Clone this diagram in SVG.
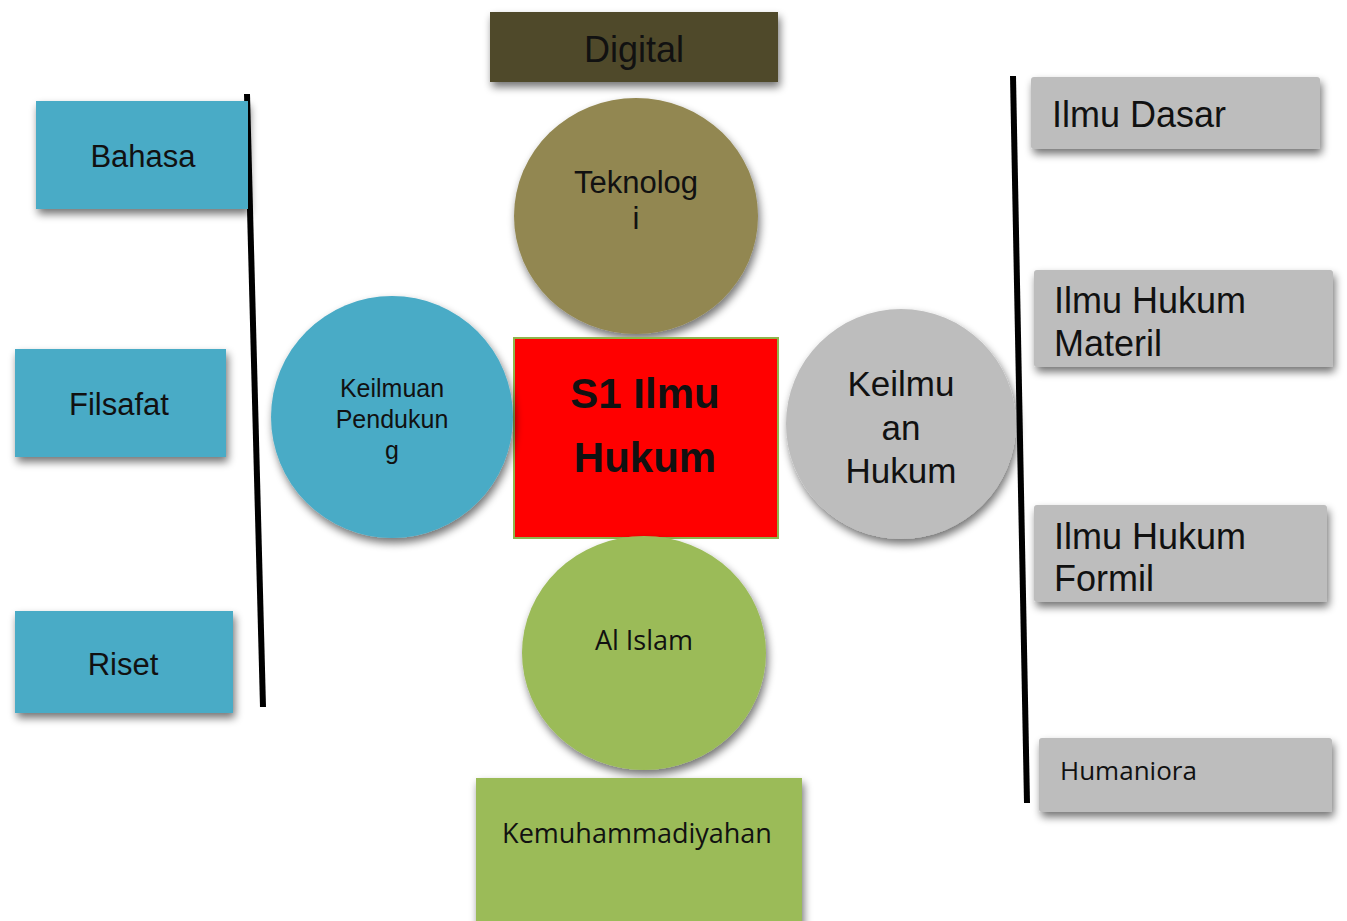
<svg xmlns="http://www.w3.org/2000/svg" width="1347" height="921" viewBox="0 0 1347 921">
<defs>
<filter id="sh" x="-20%" y="-20%" width="140%" height="150%">
<feGaussianBlur in="SourceAlpha" stdDeviation="4"/>
<feOffset dx="2" dy="5" result="b"/>
<feComponentTransfer><feFuncA type="linear" slope="0.55"/></feComponentTransfer>
<feMerge><feMergeNode/><feMergeNode in="SourceGraphic"/></feMerge>
</filter>
</defs>
<style>
.t{font-family:"Liberation Sans",Arial,sans-serif;fill:#111;text-anchor:middle}
.l{font-family:"Liberation Sans",Arial,sans-serif;fill:#111}
.c{font-family:"Open Sans","Noto Sans",sans-serif;fill:#111;text-anchor:middle}
.blue{fill:#4aabc6}
.grey{fill:#bdbdbd}
.green{fill:#9bbb59}
</style>
<rect width="1347" height="921" fill="#ffffff"/>
<g id="connectors" stroke="#000" stroke-width="6" fill="none">
<line x1="247" y1="94" x2="263" y2="707"/>
<line x1="1013" y1="76" x2="1027" y2="803"/>
</g>
<g id="digital">
<rect x="490" y="12" width="288" height="70" fill="#4f4a2c" filter="url(#sh)"/>
<text class="t" x="634" y="62" font-size="36">Digital</text>
</g>
<g id="teknologi">
<ellipse cx="636" cy="216" rx="122" ry="118" fill="#928751" filter="url(#sh)"/>
<text class="t" x="636" y="193" font-size="31">Teknolog</text>
<text class="t" x="636" y="229" font-size="31">i</text>
</g>
<g id="s1">
<rect x="514" y="338" width="264" height="200" fill="#ff0000" stroke="#8fb54c" stroke-width="2"/>
<text class="t" x="645" y="408" font-size="42" font-weight="bold">S1 Ilmu</text>
<text class="t" x="645" y="472" font-size="42" font-weight="bold">Hukum</text>
</g>
<g id="keilmuan-pendukung">
<circle cx="392" cy="417" r="121" class="blue" filter="url(#sh)"/>
<text class="t" x="392" y="397" font-size="25">Keilmuan</text>
<text class="t" x="392" y="428" font-size="25">Pendukun</text>
<text class="t" x="392" y="459" font-size="25">g</text>
</g>
<g id="keilmuan-hukum">
<circle cx="901" cy="424" r="115" class="grey" filter="url(#sh)"/>
<text class="t" x="901" y="396" font-size="35">Keilmu</text>
<text class="t" x="901" y="440" font-size="35">an</text>
<text class="t" x="901" y="483" font-size="35">Hukum</text>
</g>
<g id="al-islam">
<ellipse cx="644" cy="653" rx="122" ry="117" class="green" filter="url(#sh)"/>
<text class="c" x="644" y="650" font-size="27">Al Islam</text>
</g>
<g id="kemuhammadiyahan">
<rect x="476" y="778" width="326" height="150" class="green" filter="url(#sh)"/>
<text class="c" x="637" y="843" font-size="27">Kemuhammadiyahan</text>
</g>
<g id="bahasa">
<rect x="36" y="101" width="212" height="108" class="blue" filter="url(#sh)"/>
<text class="t" x="143" y="167" font-size="31">Bahasa</text>
</g>
<g id="filsafat">
<rect x="15" y="349" width="211" height="108" class="blue" filter="url(#sh)"/>
<text class="t" x="119" y="415" font-size="31">Filsafat</text>
</g>
<g id="riset">
<rect x="15" y="611" width="218" height="102" class="blue" filter="url(#sh)"/>
<text class="t" x="123" y="675" font-size="31">Riset</text>
</g>
<g id="ilmu-dasar">
<rect x="1031" y="77" width="289" height="72" rx="3" class="grey" filter="url(#sh)"/>
<text class="l" x="1052" y="127" font-size="36">Ilmu Dasar</text>
</g>
<g id="ilmu-hukum-materil">
<rect x="1034" y="270" width="299" height="97" rx="3" class="grey" filter="url(#sh)"/>
<text class="l" x="1054" y="313" font-size="36">Ilmu Hukum</text>
<text class="l" x="1054" y="356" font-size="36">Materil</text>
</g>
<g id="ilmu-hukum-formil">
<rect x="1034" y="505" width="293" height="97" rx="3" class="grey" filter="url(#sh)"/>
<text class="l" x="1054" y="549" font-size="36">Ilmu Hukum</text>
<text class="l" x="1054" y="591" font-size="36">Formil</text>
</g>
<g id="humaniora">
<rect x="1039" y="738" width="293" height="74" rx="3" class="grey" filter="url(#sh)"/>
<text class="c" x="1060" y="780" font-size="26" style="text-anchor:start">Humaniora</text>
</g>
</svg>
